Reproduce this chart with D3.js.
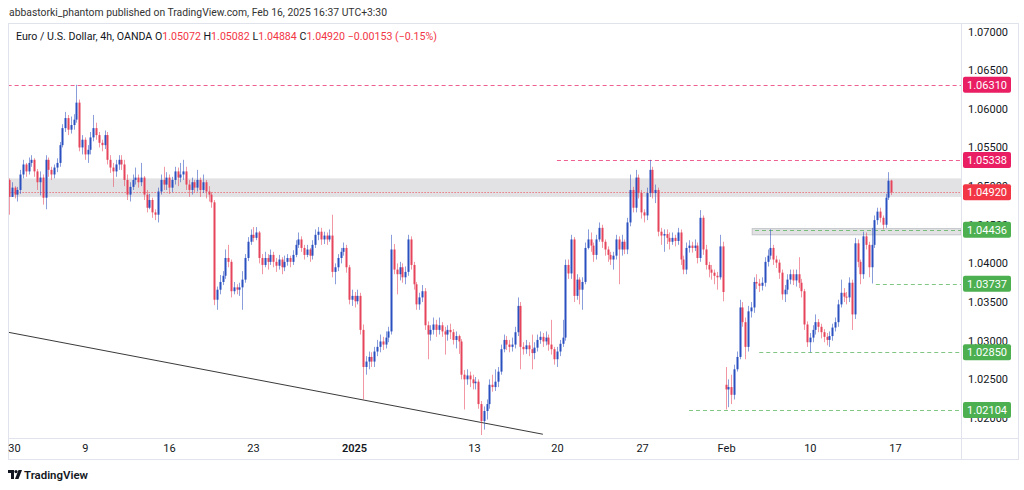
<!DOCTYPE html>
<html><head><meta charset="utf-8">
<script src="https://cdn.jsdelivr.net/npm/d3@7"></script>
<style>html,body{margin:0;padding:0;background:#fff;}svg{display:block;font-family:Roboto,"Liberation Sans",Arial,sans-serif;}</style>
</head><body><svg id="c" width="1024" height="490"></svg>
<script>
// ---- DATA (EUR/USD 4h, OANDA) ----
const opens = [
1.0508,1.0486,1.0498,1.0489,1.0495,1.0515,1.0528,1.0519,1.0530,1.0534,
1.0519,1.0505,1.0511,1.0485,1.0534,1.0521,1.0515,1.0524,1.0530,1.0553,
1.0575,1.0588,1.0573,1.0579,1.0586,1.0608,1.0550,1.0560,1.0541,1.0547,
1.0563,1.0575,1.0566,1.0556,1.0553,1.0566,1.0534,1.0524,1.0519,1.0528,
1.0534,1.0528,1.0508,1.0489,1.0499,1.0508,1.0511,1.0505,1.0511,1.0489,
1.0472,1.0482,1.0466,1.0463,1.0493,1.0508,1.0502,1.0511,1.0498,1.0508,
1.0519,1.0511,1.0515,1.0519,1.0502,1.0495,1.0505,1.0498,1.0508,1.0495,
1.0505,1.0493,1.0489,1.0479,1.0353,1.0366,1.0376,1.0384,1.0407,1.0402,
1.0364,1.0369,1.0366,1.0369,1.0379,1.0407,1.0428,1.0437,1.0433,1.0440,
1.0407,1.0398,1.0407,1.0402,1.0411,1.0402,1.0397,1.0405,1.0395,1.0402,
1.0407,1.0402,1.0411,1.0424,1.0431,1.0420,1.0411,1.0418,1.0410,1.0424,
1.0437,1.0441,1.0431,1.0436,1.0431,1.0436,1.0389,1.0395,1.0407,1.0415,
1.0420,1.0395,1.0353,1.0358,1.0351,1.0358,1.0314,1.0266,1.0273,1.0279,
1.0273,1.0286,1.0292,1.0299,1.0295,1.0304,1.0312,1.0418,1.0392,1.0386,
1.0395,1.0382,1.0389,1.0431,1.0398,1.0373,1.0347,1.0356,1.0364,1.0320,
1.0308,1.0314,1.0321,1.0314,1.0320,1.0312,1.0308,1.0314,1.0311,1.0301,
1.0306,1.0299,1.0256,1.0250,1.0255,1.0250,1.0245,1.0247,1.0218,1.0196,
1.0209,1.0218,1.0243,1.0240,1.0247,1.0260,1.0289,1.0301,1.0295,1.0292,
1.0295,1.0311,1.0345,1.0292,1.0289,1.0294,1.0289,1.0284,1.0291,1.0301,
1.0305,1.0299,1.0304,1.0295,1.0289,1.0276,1.0286,1.0296,1.0304,1.0398,
1.0387,1.0431,1.0358,1.0379,1.0366,1.0376,1.0420,1.0431,1.0423,1.0411,
1.0431,1.0446,1.0428,1.0418,1.0411,1.0405,1.0410,1.0431,1.0418,1.0428,
1.0418,1.0453,1.0495,1.0472,1.0511,1.0491,1.0466,1.0462,1.0491,1.0521,
1.0491,1.0495,1.0441,1.0436,1.0438,1.0433,1.0428,1.0433,1.0429,1.0440,
1.0405,1.0392,1.0420,1.0423,1.0420,1.0423,1.0407,1.0459,1.0418,1.0398,
1.0392,1.0388,1.0384,1.0382,1.0422,1.0243,1.0237,1.0240,1.0230,1.0263,
1.0279,1.0343,1.0324,1.0292,1.0338,1.0343,1.0376,1.0374,1.0371,1.0375,
1.0402,1.0410,1.0420,1.0405,1.0401,1.0388,1.0360,1.0366,1.0379,1.0386,
1.0378,1.0386,1.0375,1.0364,1.0321,1.0298,1.0304,1.0314,1.0324,1.0318,
1.0311,1.0305,1.0301,1.0306,1.0317,1.0324,1.0347,1.0362,1.0357,1.0356,
1.0375,1.0334,1.0426,1.0402,1.0386,1.0435,1.0424,1.0395,1.0424,1.0456,
1.0467,1.0459,1.0450,1.0485,1.05072];
const highs = [
1.0510,1.0505,1.0500,1.0499,1.0521,1.0534,1.0530,1.0537,1.0540,1.0536,
1.0522,1.0519,1.0515,1.0540,1.0537,1.0525,1.0528,1.0536,1.0557,1.0580,
1.0596,1.0592,1.0590,1.0593,1.0631,1.0612,1.0566,1.0563,1.0553,1.0570,
1.0592,1.0582,1.0570,1.0560,1.0572,1.0570,1.0540,1.0530,1.0534,1.0540,
1.0540,1.0534,1.0515,1.0505,1.0515,1.0524,1.0515,1.0530,1.0513,1.0495,
1.0490,1.0485,1.0470,1.0498,1.0515,1.0525,1.0518,1.0515,1.0512,1.0525,
1.0524,1.0530,1.0534,1.0525,1.0508,1.0511,1.0508,1.0521,1.0511,1.0515,
1.0508,1.0500,1.0492,1.0482,1.0370,1.0385,1.0390,1.0418,1.0424,1.0405,
1.0376,1.0373,1.0375,1.0390,1.0412,1.0434,1.0444,1.0447,1.0447,1.0442,
1.0412,1.0415,1.0412,1.0418,1.0415,1.0407,1.0411,1.0408,1.0410,1.0412,
1.0410,1.0417,1.0430,1.0440,1.0435,1.0424,1.0424,1.0420,1.0430,1.0444,
1.0447,1.0446,1.0441,1.0440,1.0444,1.0463,1.0400,1.0412,1.0420,1.0427,
1.0424,1.0398,1.0366,1.0363,1.0366,1.0362,1.0321,1.0280,1.0286,1.0285,
1.0292,1.0301,1.0308,1.0305,1.0312,1.0318,1.0437,1.0425,1.0400,1.0402,
1.0400,1.0396,1.0437,1.0435,1.0402,1.0376,1.0362,1.0372,1.0368,1.0325,
1.0320,1.0330,1.0327,1.0330,1.0324,1.0318,1.0320,1.0322,1.0315,1.0312,
1.0308,1.0302,1.0262,1.0263,1.0260,1.0256,1.0253,1.0250,1.0222,1.0215,
1.0224,1.0250,1.0256,1.0263,1.0266,1.0295,1.0308,1.0306,1.0301,1.0304,
1.0318,1.0356,1.0350,1.0298,1.0301,1.0298,1.0308,1.0298,1.0308,1.0312,
1.0310,1.0312,1.0308,1.0327,1.0292,1.0292,1.0301,1.0327,1.0405,1.0405,
1.0437,1.0434,1.0386,1.0382,1.0382,1.0427,1.0444,1.0440,1.0427,1.0437,
1.0453,1.0450,1.0431,1.0422,1.0415,1.0415,1.0437,1.0435,1.0437,1.0431,
1.0459,1.0515,1.0499,1.0521,1.0515,1.0495,1.0470,1.0498,1.0534,1.0525,
1.0502,1.0498,1.0446,1.0444,1.0444,1.0440,1.0440,1.0437,1.0446,1.0444,
1.0410,1.0427,1.0430,1.0428,1.0431,1.0427,1.0469,1.0462,1.0424,1.0402,
1.0398,1.0392,1.0389,1.0437,1.0428,1.0266,1.0250,1.0256,1.0269,1.0286,
1.0353,1.0350,1.0330,1.0345,1.0350,1.0382,1.0386,1.0380,1.0382,1.0408,
1.0418,1.0444,1.0424,1.0410,1.0405,1.0392,1.0372,1.0386,1.0392,1.0392,
1.0392,1.0408,1.0380,1.0367,1.0325,1.0310,1.0320,1.0334,1.0328,1.0322,
1.0315,1.0310,1.0312,1.0322,1.0330,1.0353,1.0379,1.0368,1.0363,1.0382,
1.0379,1.0433,1.0431,1.0405,1.0441,1.0440,1.0428,1.0446,1.0462,1.0472,
1.0472,1.0462,1.0490,1.0518,1.05082];
const lows = [
1.0463,1.0487,1.0484,1.0480,1.0490,1.0510,1.0512,1.0515,1.0525,1.0512,
1.0495,1.0488,1.0476,1.0470,1.0512,1.0508,1.0510,1.0518,1.0525,1.0550,
1.0570,1.0566,1.0568,1.0573,1.0582,1.0545,1.0541,1.0534,1.0530,1.0541,
1.0558,1.0560,1.0550,1.0545,1.0548,1.0528,1.0517,1.0499,1.0512,1.0521,
1.0521,1.0500,1.0482,1.0480,1.0495,1.0502,1.0498,1.0500,1.0482,1.0466,
1.0470,1.0459,1.0456,1.0453,1.0489,1.0495,1.0495,1.0490,1.0492,1.0502,
1.0500,1.0505,1.0508,1.0495,1.0486,1.0489,1.0492,1.0493,1.0486,1.0491,
1.0484,1.0480,1.0472,1.0346,1.0340,1.0360,1.0372,1.0380,1.0395,1.0356,
1.0360,1.0360,1.0358,1.0340,1.0375,1.0403,1.0424,1.0428,1.0430,1.0400,
1.0386,1.0395,1.0392,1.0398,1.0395,1.0389,1.0392,1.0386,1.0390,1.0397,
1.0395,1.0398,1.0408,1.0420,1.0415,1.0405,1.0408,1.0402,1.0405,1.0420,
1.0430,1.0424,1.0425,1.0424,1.0428,1.0382,1.0373,1.0390,1.0400,1.0410,
1.0388,1.0347,1.0345,1.0343,1.0347,1.0308,1.0224,1.0256,1.0263,1.0266,
1.0266,1.0280,1.0285,1.0288,1.0290,1.0298,1.0308,1.0386,1.0360,1.0378,
1.0375,1.0373,1.0384,1.0392,1.0366,1.0340,1.0340,1.0350,1.0314,1.0276,
1.0300,1.0308,1.0305,1.0308,1.0305,1.0282,1.0300,1.0302,1.0295,1.0290,
1.0283,1.0250,1.0211,1.0243,1.0240,1.0237,1.0237,1.0212,1.0178,1.0185,
1.0198,1.0212,1.0234,1.0235,1.0240,1.0256,1.0285,1.0288,1.0285,1.0286,
1.0290,1.0306,1.0263,1.0282,1.0283,1.0280,1.0263,1.0276,1.0286,1.0296,
1.0292,1.0294,1.0287,1.0282,1.0269,1.0266,1.0280,1.0292,1.0300,1.0380,
1.0380,1.0350,1.0353,1.0347,1.0340,1.0373,1.0418,1.0415,1.0402,1.0405,
1.0428,1.0420,1.0410,1.0402,1.0398,1.0392,1.0405,1.0373,1.0410,1.0412,
1.0412,1.0448,1.0466,1.0466,1.0484,1.0458,1.0453,1.0456,1.0486,1.0484,
1.0478,1.0435,1.0424,1.0415,1.0425,1.0418,1.0424,1.0422,1.0424,1.0398,
1.0386,1.0386,1.0414,1.0414,1.0416,1.0400,1.0402,1.0411,1.0392,1.0382,
1.0379,1.0373,1.0366,1.0379,1.0351,1.0211,1.0214,1.0218,1.0224,1.0260,
1.0276,1.0318,1.0276,1.0286,1.0330,1.0336,1.0367,1.0363,1.0365,1.0370,
1.0396,1.0405,1.0398,1.0394,1.0380,1.0353,1.0350,1.0360,1.0373,1.0372,
1.0370,1.0368,1.0356,1.0314,1.0292,1.0285,1.0298,1.0308,1.0311,1.0303,
1.0298,1.0294,1.0292,1.0300,1.0312,1.0318,1.0343,1.0350,1.0347,1.0350,
1.0314,1.0328,1.0395,1.0373,1.0380,1.0418,1.0382,1.0374,1.0420,1.0450,
1.0453,1.0444,1.0446,1.0482,1.04884];
const closes = [
1.0486,1.0498,1.0489,1.0495,1.0515,1.0528,1.0519,1.0530,1.0534,1.0519,
1.0505,1.0511,1.0485,1.0534,1.0521,1.0515,1.0524,1.0530,1.0553,1.0575,
1.0588,1.0573,1.0579,1.0586,1.0608,1.0550,1.0560,1.0541,1.0547,1.0563,
1.0575,1.0566,1.0556,1.0553,1.0566,1.0534,1.0524,1.0519,1.0528,1.0534,
1.0528,1.0508,1.0489,1.0499,1.0508,1.0511,1.0505,1.0511,1.0489,1.0472,
1.0482,1.0466,1.0463,1.0493,1.0508,1.0502,1.0511,1.0498,1.0508,1.0519,
1.0511,1.0515,1.0519,1.0502,1.0495,1.0505,1.0498,1.0508,1.0495,1.0505,
1.0493,1.0489,1.0479,1.0353,1.0366,1.0376,1.0384,1.0407,1.0402,1.0364,
1.0369,1.0366,1.0369,1.0379,1.0407,1.0428,1.0437,1.0433,1.0440,1.0407,
1.0398,1.0407,1.0402,1.0411,1.0402,1.0397,1.0405,1.0395,1.0402,1.0407,
1.0402,1.0411,1.0424,1.0431,1.0420,1.0411,1.0418,1.0410,1.0424,1.0437,
1.0441,1.0431,1.0436,1.0431,1.0436,1.0389,1.0395,1.0407,1.0415,1.0420,
1.0395,1.0353,1.0358,1.0351,1.0358,1.0314,1.0266,1.0273,1.0279,1.0273,
1.0286,1.0292,1.0299,1.0295,1.0304,1.0312,1.0418,1.0392,1.0386,1.0395,
1.0382,1.0389,1.0431,1.0398,1.0373,1.0347,1.0356,1.0364,1.0320,1.0308,
1.0314,1.0321,1.0314,1.0320,1.0312,1.0308,1.0314,1.0311,1.0301,1.0306,
1.0299,1.0256,1.0250,1.0255,1.0250,1.0245,1.0247,1.0218,1.0196,1.0209,
1.0218,1.0243,1.0240,1.0247,1.0260,1.0289,1.0301,1.0295,1.0292,1.0295,
1.0311,1.0345,1.0292,1.0289,1.0294,1.0289,1.0284,1.0291,1.0301,1.0305,
1.0299,1.0304,1.0295,1.0289,1.0276,1.0286,1.0296,1.0304,1.0398,1.0387,
1.0431,1.0358,1.0379,1.0366,1.0376,1.0420,1.0431,1.0423,1.0411,1.0431,
1.0446,1.0428,1.0418,1.0411,1.0405,1.0410,1.0431,1.0418,1.0428,1.0418,
1.0453,1.0495,1.0472,1.0511,1.0491,1.0466,1.0462,1.0491,1.0521,1.0491,
1.0495,1.0441,1.0436,1.0438,1.0433,1.0428,1.0433,1.0429,1.0440,1.0405,
1.0392,1.0420,1.0423,1.0420,1.0423,1.0407,1.0459,1.0418,1.0398,1.0392,
1.0388,1.0384,1.0382,1.0422,1.0363,1.0237,1.0240,1.0230,1.0263,1.0279,
1.0343,1.0324,1.0292,1.0338,1.0343,1.0376,1.0374,1.0371,1.0375,1.0402,
1.0410,1.0420,1.0405,1.0401,1.0388,1.0360,1.0366,1.0379,1.0386,1.0378,
1.0386,1.0375,1.0364,1.0321,1.0298,1.0304,1.0314,1.0324,1.0318,1.0311,
1.0305,1.0301,1.0306,1.0317,1.0324,1.0347,1.0362,1.0357,1.0356,1.0375,
1.0334,1.0426,1.0402,1.0386,1.0435,1.0424,1.0395,1.0424,1.0456,1.0467,
1.0459,1.0450,1.0485,1.0507,1.04920];

const priceTicks = [1.02,1.025,1.03,1.035,1.04,1.045,1.05,1.055,1.06,1.065,1.07];
const timeLabels = ["30","9","16","23","2025","13","20","27","Feb","10","17"];
const timeBars   = [1.8,27,56.9,86.8,122.8,165.5,195,225.3,255.2,285,315.3];

const levelPrices = [1.06310,1.05338,1.04920,1.04436,1.03737,1.02850,1.02104];
const levelStartBars = [-0.5,195,-0.5,265.5,308.5,267,242];
const levelKinds = ["pink","pink","price","green","green","green","green"];

const zonePrices = [[1.0510,1.0486],[1.0445,1.0437]];
const zoneStartBars = [-0.5,264.5];

const trendBars = [-0.4,190];
const trendPrices = [1.0311,1.0179];

// ---- LAYOUT ----
const L=8, R=961, T=23, B=438, FR=1018, FB=459;
const svg = d3.select("#c");
const x = d3.scaleLinear().domain([0,314]).range([9,891.3]);
const y = d3.scaleLinear().domain([1.02,1.07]).range([418,31.5]);
const C = {bull:"#2a4fbf", bear:"#e5445a", pink:"#e91e63", price:"#f23645", green:"#4caf50", text:"#131722", frame:"#e0e3eb"};

// header
svg.append("text").attr("x",9).attr("y",16).attr("font-size",10.5).attr("fill","#333")
  .attr("textLength",378).attr("lengthAdjust","spacingAndGlyphs")
  .text("abbastorki_phantom published on TradingView.com, Feb 16, 2025 16:37 UTC+3:30");

// frame
svg.append("rect").attr("x",L+0.5).attr("y",T+0.5).attr("width",FR-L).attr("height",FB-T)
  .attr("fill","none").attr("stroke",C.frame);
svg.append("line").attr("x1",R+0.5).attr("x2",R+0.5).attr("y1",T).attr("y2",FB).attr("stroke",C.frame);
svg.append("line").attr("x1",L).attr("x2",FR).attr("y1",B+0.5).attr("y2",B+0.5).attr("stroke",C.frame);

const plot = svg.append("g");
plot.append("clipPath").attr("id","clip").append("rect").attr("x",L+1).attr("y",T+1).attr("width",R-L-1).attr("height",B-T-1);
const g = plot.append("g").attr("clip-path","url(#clip)");

// zones
zonePrices.forEach((z,k)=>{
  g.append("rect").attr("x",x(zoneStartBars[k])).attr("width",R-x(zoneStartBars[k]))
   .attr("y",y(z[0])).attr("height",y(z[1])-y(z[0]))
   .attr("fill",k===0?"#e2e2e5":"#e2e2e4").attr("stroke",k===0?"none":"#c4c5c8").attr("stroke-width",1);
});

// trend line
g.append("line").attr("x1",x(trendBars[0])).attr("y1",y(trendPrices[0]))
  .attr("x2",x(trendBars[1])).attr("y2",y(trendPrices[1])).attr("stroke","#3a3a3a").attr("stroke-width",1);

// level lines
levelPrices.forEach((p,k)=>{
  const kind = levelKinds[k];
  const col = kind==="pink"?C.pink:kind==="price"?C.price:C.green;
  const yy = Math.round(y(p))+0.5;
  g.append("line").attr("x1",x(levelStartBars[k])).attr("x2",R).attr("y1",yy).attr("y2",yy)
   .attr("stroke",col).attr("stroke-width",1).attr("opacity",kind==="price"?0.9:0.7)
   .attr("stroke-dasharray",kind==="price"?"1,2":"4,3");
});

// candles
const idx = d3.range(closes.length);
const cg = g.append("g");
idx.forEach(i=>{
  const o=opens[i], c=closes[i];
  const hi=Math.max(highs[i],o,c), lo=Math.min(lows[i],o,c);
  const up = c>=o;
  const col = up?C.bull:C.bear;
  const cx = Math.round(x(i));
  cg.append("line").attr("x1",cx+0.5).attr("x2",cx+0.5).attr("y1",y(hi)).attr("y2",y(lo))
    .attr("stroke",col).attr("stroke-opacity",0.55).attr("stroke-width",1);
  const yt=y(Math.max(o,c)), yb=y(Math.min(o,c));
  cg.append("rect").attr("x",cx-0.5).attr("width",2).attr("y",yt).attr("height",Math.max(1,yb-yt)).attr("fill",col);
});

// price axis
const ya = svg.append("g").attr("transform",`translate(${R},0)`)
  .call(d3.axisRight(y).tickValues(priceTicks).tickSize(0).tickFormat(d3.format(".5f")));
ya.select(".domain").remove();
ya.selectAll("text").attr("x",27).attr("text-anchor","middle").attr("font-size",11)
  .attr("fill",C.text).attr("font-family","Roboto, Arial, sans-serif");

// level labels
levelPrices.forEach((p,k)=>{
  const kind = levelKinds[k];
  const col = kind==="pink"?C.pink:kind==="price"?C.price:C.green;
  const yy = y(p);
  svg.append("rect").attr("x",R+2).attr("y",yy-8).attr("width",48).attr("height",16).attr("rx",2).attr("fill",col);
  svg.append("text").attr("x",R+26).attr("y",yy+4).attr("text-anchor","middle").attr("font-size",11)
    .attr("fill","#fff").text(d3.format(".5f")(p));
});

// time axis
const xa = svg.append("g").attr("transform",`translate(0,${B})`)
  .call(d3.axisBottom(x).tickValues(timeBars).tickSize(0).tickFormat((d,i)=>timeLabels[i]));
xa.select(".domain").remove();
xa.selectAll("text").attr("y",6).attr("dy","0.71em").attr("font-size",11).attr("fill",C.text)
  .attr("font-family","Roboto, Arial, sans-serif")
  .attr("font-weight",(d,i)=>timeLabels[i]==="2025"?600:400);

// legend line
const lg = svg.append("text").attr("x",16).attr("y",40).attr("font-size",10.5).attr("fill",C.text)
  .attr("textLength",421).attr("lengthAdjust","spacingAndGlyphs");
lg.append("tspan").text("Euro / U.S. Dollar, 4h, OANDA  O");
lg.append("tspan").attr("fill",C.price).text("1.05072");
lg.append("tspan").text("  H");
lg.append("tspan").attr("fill",C.price).text("1.05082");
lg.append("tspan").text("  L");
lg.append("tspan").attr("fill",C.price).text("1.04884");
lg.append("tspan").text("  C");
lg.append("tspan").attr("fill",C.price).text("1.04920  \u22120.00153 (\u22120.15%)");

// footer logo
const lgo = svg.append("g").attr("transform","translate(8,470)").attr("fill","#131722");
lgo.append("path").attr("d","M0,0 H6 V9 H3 V3 H0 Z");
lgo.append("circle").attr("cx",8).attr("cy",1.6).attr("r",1.6);
lgo.append("path").attr("d","M10.5,0 H14 L10.5,9 H7 Z");
svg.append("text").attr("x",24).attr("y",479).attr("font-size",11.5).attr("font-weight",600)
  .attr("fill","#131722").attr("textLength",64).attr("lengthAdjust","spacingAndGlyphs").text("TradingView");
</script></body></html>
